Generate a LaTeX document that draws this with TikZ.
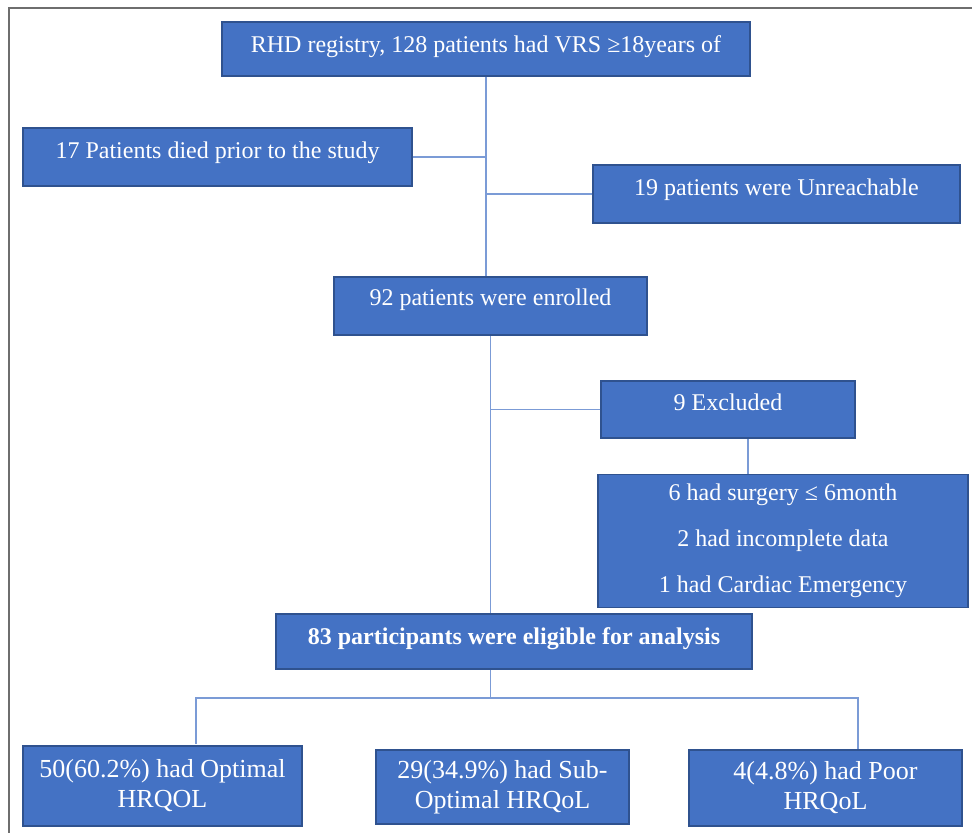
\documentclass[tikz,border=0pt]{standalone}
\usepackage{fontspec}
\setmainfont{Liberation Serif}
\begin{document}
\begin{tikzpicture}[x=1pt,y=-1pt,
  box/.style={draw=boxedge, line width=1.5pt, fill=boxfill, text=white, inner sep=2pt,
    font=\fontsize{24}{30}\selectfont, align=center},
  txtup/.style={text height=18pt, text depth=#1},
  bigtxt/.style={font=\fontsize{26}{30}\selectfont},
  conn/.style={draw=linecol, line width=1.2pt},
  frame/.style={draw=framecol, line width=2pt}]
\definecolor{boxfill}{HTML}{4472C4}
\definecolor{boxedge}{HTML}{2F528F}
\definecolor{linecol}{HTML}{7B9BD6}
\definecolor{framecol}{HTML}{6E6E6E}
\useasboundingbox (0,0) rectangle (972,835);
% partial outer frame
\coordinate (fA) at (9,8);
\coordinate (fB) at (972,8);
\coordinate (fC) at (9,833);
\draw[frame] (fB) -- (fA) -- (fC);

\node[box, txtup=12pt, minimum width=528pt, minimum height=54pt] (top) at (486,49) {RHD registry, 128 patients had VRS ≥18years of};
\node[box, txtup=16pt, minimum width=389pt, minimum height=58pt] (died) at (217.5,157) {17 Patients died prior to the study};
\node[box, txtup=16pt, minimum width=367pt, minimum height=58pt] (unreach) at (776.5,194) {19 patients were Unreachable};
\node[box, txtup=19pt, minimum width=313pt, minimum height=58pt] (enrolled) at (490.5,306) {92 patients were enrolled};
\node[box, txtup=16pt, minimum width=254pt, minimum height=57pt] (excl) at (728,409.5) {9 Excluded};
\node[box, font=\fontsize{24}{46}\selectfont, minimum width=370pt, minimum height=133pt] (detail) at (783,541) {6 had surgery ≤ 6month\\2 had incomplete data\\1 had Cardiac Emergency};
\node[box, txtup=13pt, font=\fontsize{24}{30}\selectfont\bfseries, minimum width=476pt, minimum height=55pt] (elig) at (514,641.5) {83 participants were eligible for analysis};
\node[box, bigtxt, minimum width=279pt, minimum height=80pt] (opt) at (162.5,786) {50(60.2\%) had Optimal\\HRQOL};
\node[box, bigtxt, minimum width=253pt, minimum height=74pt] (sub) at (502.5,787) {29(34.9\%) had Sub-\\Optimal HRQoL};
\node[box, bigtxt, minimum width=273pt, minimum height=76pt] (poor) at (825.5,788) {4(4.8\%) had Poor\\HRQoL};

% connectors
\draw[conn] (top.south) -- (top.south |- enrolled.north);
\draw[conn] (died.east) -- (died.east -| top.south);
\draw[conn] (unreach.west) -- (unreach.west -| top.south);
\draw[conn] (enrolled.south) -- (enrolled.south |- elig.north);
\draw[conn] (excl.west) -- (excl.west -| enrolled.south);
\coordinate (exd) at ([xshift=20pt]excl.south);
\draw[conn] (exd) -- (exd |- detail.north);
\coordinate (eb) at (elig.south -| enrolled.south);
\coordinate (hub) at (490.5,698);
\coordinate (lc) at (196,698);
\coordinate (rc) at (858,698);
\coordinate (lend) at (196,744);
\draw[conn] (eb) -- (hub);
\draw[conn] (lend) -- (lc) -- (rc) -- (rc |- poor.north);
\end{tikzpicture}
\end{document}
